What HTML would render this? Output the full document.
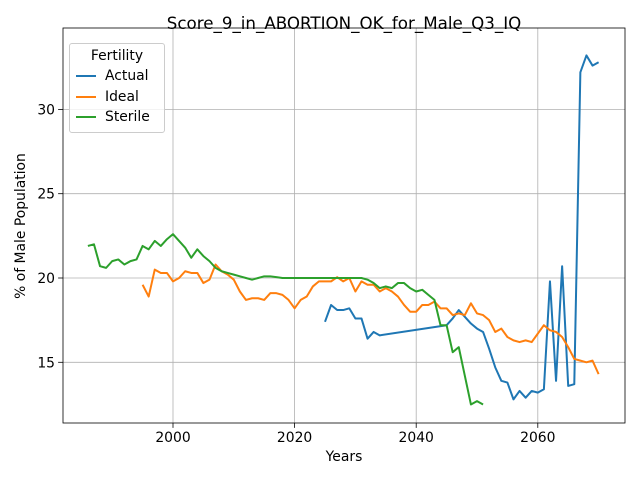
<!DOCTYPE html>
<html><head><meta charset="utf-8"><style>
body{margin:0;background:#fff;font-family:"Liberation Sans","DejaVu Sans",sans-serif}
svg text{font-family:"DejaVu Sans","Liberation Sans",sans-serif}
</style></head><body>
<svg id="c" width="640" height="480" xmlns="http://www.w3.org/2000/svg"></svg>
<script>
const sterileYears=[1986,1987,1988,1989,1990,1991,1992,1993,1994,1995,1996,1997,1998,1999,2000,2001,2002,2003,2004,2005,2006,2007,2008,2009,2010,2011,2012,2013,2014,2015,2016,2017,2018,2019,2020,2021,2022,2023,2024,2025,2026,2027,2028,2029,2030,2031,2032,2033,2034,2035,2036,2037,2038,2039,2040,2041,2042,2043,2044,2045,2046,2047,2048,2049,2050,2051];
const sterileVals=[21.9,22.0,20.7,20.6,21.0,21.1,20.8,21.0,21.1,21.9,21.7,22.2,21.9,22.3,22.6,22.2,21.8,21.2,21.7,21.3,21.0,20.6,20.4,20.3,20.2,20.1,20.0,19.9,20.0,20.1,20.1,20.05,20.0,20.0,20.0,20.0,20.0,20.0,20.0,20.0,20.0,20.0,20.0,20.0,20.0,20.0,19.9,19.7,19.4,19.5,19.4,19.7,19.7,19.4,19.2,19.3,19.0,18.7,17.2,17.2,15.6,15.9,14.2,12.5,12.7,12.5];
const idealYears=[1995,1996,1997,1998,1999,2000,2001,2002,2003,2004,2005,2006,2007,2008,2009,2010,2011,2012,2013,2014,2015,2016,2017,2018,2019,2020,2021,2022,2023,2024,2025,2026,2027,2028,2029,2030,2031,2032,2033,2034,2035,2036,2037,2038,2039,2040,2041,2042,2043,2044,2045,2046,2047,2048,2049,2050,2051,2052,2053,2054,2055,2056,2057,2058,2059,2060,2061,2062,2063,2064,2065,2066,2067,2068,2069,2070];
const idealVals=[19.6,18.9,20.5,20.3,20.3,19.8,20.0,20.4,20.3,20.3,19.7,19.9,20.8,20.4,20.2,19.9,19.2,18.7,18.8,18.8,18.7,19.1,19.1,19.0,18.7,18.2,18.7,18.9,19.5,19.8,19.8,19.8,20.05,19.8,20.0,19.2,19.8,19.6,19.6,19.2,19.4,19.2,18.9,18.4,18.0,18.0,18.4,18.4,18.6,18.2,18.2,17.8,17.9,17.8,18.5,17.9,17.8,17.5,16.8,17.0,16.5,16.3,16.2,16.3,16.2,16.7,17.2,16.9,16.8,16.5,15.9,15.2,15.1,15.0,15.1,14.3];
const actualYears=[2025,2026,2027,2028,2029,2030,2031,2032,2033,2034,2045,2046,2047,2048,2049,2050,2051,2052,2053,2054,2055,2056,2057,2058,2059,2060,2061,2062,2063,2064,2065,2066,2067,2068,2069,2070];
const actualVals=[17.4,18.4,18.1,18.1,18.2,17.6,17.6,16.4,16.8,16.6,17.2,17.6,18.1,17.7,17.3,17.0,16.8,15.8,14.7,13.9,13.8,12.8,13.3,12.9,13.3,13.2,13.4,19.8,13.9,20.7,13.6,13.7,32.2,33.2,32.6,32.8];
const xTicks=[2000,2020,2040,2060];
const yTicks=[15,20,25,30];

const L=63,R=625,T=28,B=423;
const x=v=>173+(v-2000)*6.08;
const y=v=>278-(v-20)*16.86;
const svg=document.getElementById('c');
const NS='http://www.w3.org/2000/svg';
function mk(t,a,p){const e=document.createElementNS(NS,t);for(const k in a)e.setAttribute(k,a[k]);(p||svg).appendChild(e);return e;}
const g=mk('g',{});


xTicks.forEach(v=>{
  mk('line',{x1:x(v),x2:x(v),y1:T,y2:B,stroke:'#b0b0b0','stroke-width':0.8},g);
  mk('line',{x1:x(v),x2:x(v),y1:B,y2:B+4.9,stroke:'#000','stroke-width':0.8});
  const t=mk('text',{x:x(v),y:B+19,'font-size':13.9,'text-anchor':'middle'});t.textContent=v;
  
  
});
yTicks.forEach(v=>{
  mk('line',{x1:L-4.9,x2:L,y1:y(v),y2:y(v),stroke:'#000','stroke-width':0.8});
  mk('line',{x1:L,x2:R,y1:y(v),y2:y(v),stroke:'#b0b0b0','stroke-width':0.8},g);
  const t=mk('text',{x:L-8,y:y(v)+5,'font-size':13.9,'text-anchor':'end'});t.textContent=v;
  
  
});
function series(xs,vs,col,name){
  const p=mk('polyline',{points:xs.map((d,i)=>x(d)+','+y(vs[i])).join(' '),fill:'none',stroke:col,'stroke-width':2,'stroke-linejoin':'round'});
  
  
}
series(actualYears,actualVals,'#1f77b4','actual-line');
series(idealYears,idealVals,'#ff7f0e','ideal-line');
series(sterileYears,sterileVals,'#2ca02c','sterile-line');
const fr=mk('rect',{x:L,y:T,width:R-L,height:B-T,fill:'none',stroke:'#000','stroke-width':0.8});


</script>
<div style="position:absolute;left:0;top:0;width:640px;height:480px;pointer-events:none;font-family:'DejaVu Sans',sans-serif">
<div style="position:absolute;top:13px;left:344px;width:0;display:flex;justify-content:center;font-size:16.7px;white-space:nowrap">Score_9_in_ABORTION_OK_for_Male_Q3_IQ</div>
<div style="position:absolute;top:449px;left:344px;width:0;display:flex;justify-content:center;font-size:13.9px;white-space:nowrap">Years</div>
<div style="position:absolute;left:21px;top:226px;transform:translate(-50%,-50%) rotate(-90deg);font-size:13.9px;white-space:nowrap">% of Male Population</div>
<div style="position:absolute;left:69px;top:43px;width:94px;height:88px;border:1px solid #ccc;border-radius:3px;background:rgba(255,255,255,.8);font-size:13.9px">
 <div style="position:absolute;top:4px;width:94px;text-align:center">Fertility</div>
 <div style="position:absolute;top:24px;left:6px;white-space:nowrap"><span style="display:inline-block;width:20px;border-top:2px solid #1f77b4;vertical-align:middle;margin-right:9px"></span>Actual</div>
 <div style="position:absolute;top:45px;left:6px;white-space:nowrap"><span style="display:inline-block;width:20px;border-top:2px solid #ff7f0e;vertical-align:middle;margin-right:9px"></span>Ideal</div>
 <div style="position:absolute;top:65px;left:6px;white-space:nowrap"><span style="display:inline-block;width:20px;border-top:2px solid #2ca02c;vertical-align:middle;margin-right:9px"></span>Sterile</div>
</div>
</div>
</body></html>
